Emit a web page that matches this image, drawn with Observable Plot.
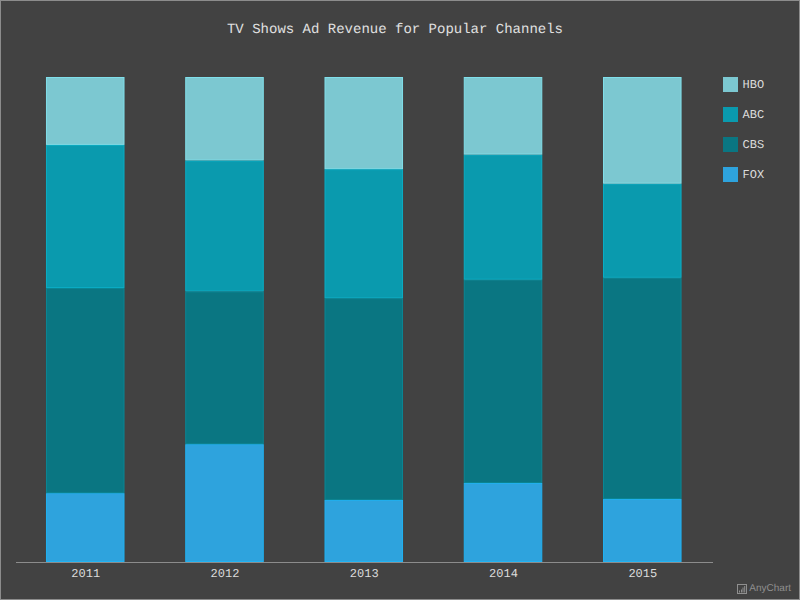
<!DOCTYPE html>
<html>
<head>
<meta charset="utf-8">
<script src="https://cdn.jsdelivr.net/npm/d3@7"></script>
<script src="https://cdn.jsdelivr.net/npm/@observablehq/plot@0.6"></script>
<style>
html,body{margin:0;padding:0;background:#424242}
#chart{position:relative;width:800px;height:600px;overflow:hidden;background:#424242;font-family:"Liberation Mono",monospace;text-rendering:geometricPrecision}
#chart svg.main{position:absolute;left:0;top:0;background:transparent}
#frame{position:absolute;inset:0;border:1px solid #8c8c8c;box-sizing:border-box;pointer-events:none}
#title{position:absolute;left:0;width:790px;top:21px;text-align:center;font-size:14px;line-height:18px;color:#e0e0e0}
.lg{position:absolute;left:722.5px;height:15px;display:flex;align-items:center;font-size:12px;color:#dcdcdc}
.lg i{display:block;width:15px;height:15px;margin-right:5px}
#credit{position:absolute;right:9px;top:582px;font:10px/14px "Liberation Sans",sans-serif;color:#8f8f8f;display:flex;align-items:center;gap:2px}
</style>
</head>
<body>
<div id="chart"><div id="title"></div><div id="frame"></div></div>
<script>
const titleText = "TV Shows Ad Revenue for Popular Channels";
const years = ["2011","2012","2013","2014","2015"];
const channels = ["FOX","CBS","ABC","HBO"];
const FOX = [14.2,24.3,12.8,16.3,13.0];
const CBS = [42.3,31.5,41.6,41.9,45.6];
const ABC = [29.5,27.0,26.6,25.8,19.4];
const HBO = [14.0,17.2,19.0,16.0,22.0];
const fills = ["#2ea3dd","#0a7682","#0a9aae","#7cc8d1"];
const strokes = ["#20b2f2","#0a8795","#0aaec5","#80dfea"];

const seriesValues = {FOX,CBS,ABC,HBO};
const rows = channels.flatMap((c,i)=>years.map((y,j)=>({year:y,channel:c,value:seriesValues[c][j],edge:strokes[i]})));

const chart = document.getElementById("chart");
document.getElementById("title").textContent = titleText;

const plot = Plot.plot({
  width:800,height:600,
  marginTop:77,marginBottom:38,marginLeft:16,marginRight:87,
  style:{background:"transparent",fontFamily:'"Liberation Mono",monospace',fontSize:"12px",color:"#dcdcdc",overflow:"visible"},
  x:{domain:years,paddingInner:0.436,paddingOuter:0.2205,align:0.488,round:false,label:null,tickSize:0,tickPadding:6},
  y:{domain:[0,1],axis:null},
  color:{domain:channels,range:fills},
  marks:[
    Plot.barY(rows,Plot.stackY({
      x:"year",y:"value",z:"channel",order:channels,offset:"normalize",
      fill:"channel",stroke:"edge",strokeWidth:1,inset:0.5
    })),
    Plot.ruleY([0],{stroke:"#8c8c8c",strokeWidth:1})
  ]
});
plot.classList.add("main");
chart.insertBefore(plot,chart.firstChild);

channels.slice().reverse().forEach((c,i)=>{
  const d=document.createElement("div");
  d.className="lg";
  d.style.top=(77+i*30)+"px";
  const sw=document.createElement("i");
  sw.style.background=fills[channels.indexOf(c)];
  d.appendChild(sw);
  d.appendChild(document.createTextNode(c));
  chart.appendChild(d);
});

const cr=document.createElement("div");
cr.id="credit";
cr.innerHTML='<svg width="10" height="10" viewBox="0 0 10 10"><rect x="0.5" y="0.5" width="9" height="9" fill="none" stroke="#8f8f8f"/><path d="M2.5 8.5v-2M4.5 8.5v-3M6 8.5v-5M7.7 8.5v-6.5" stroke="#8f8f8f" fill="none"/></svg><span>AnyChart</span>';
chart.appendChild(cr);
</script>
</body>
</html>
